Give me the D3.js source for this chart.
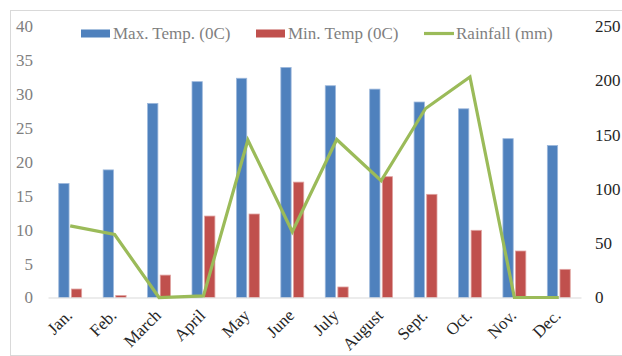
<!DOCTYPE html>
<html>
<head>
<meta charset="utf-8">
<script src="https://cdn.jsdelivr.net/npm/d3@7"></script>
<style>
  html, body { margin: 0; padding: 0; background: #fff; }
  svg { display: block; }
  text { font-family: "Liberation Serif", "Times New Roman", serif; }
</style>
</head>
<body>
<svg id="chart" width="622" height="356"></svg>
<script>
// Monthly climate data
const months = ["Jan.", "Feb.", "March", "April", "May", "June", "July", "August", "Sept.", "Oct.", "Nov.", "Dec."];
const maxTemp = [16.8, 18.8, 28.6, 31.8, 32.3, 33.9, 31.2, 30.7, 28.8, 27.8, 23.4, 22.4];
const minTemp = [1.25, 0.3, 3.3, 12.0, 12.3, 17.0, 1.55, 17.8, 15.2, 9.9, 6.85, 4.15];
const rainfall = [66, 58, 0, 1.5, 145, 60.5, 145.5, 107.5, 174, 203, 0, 0];
const leftTicks = [0, 5, 10, 15, 20, 25, 30, 35, 40];
const rightTicks = [0, 50, 100, 150, 200, 250];
const seriesNames = ["Max. Temp. (0C)", "Min. Temp (0C)", "Rainfall (mm)"];

const colors = { max: "#4F81BD", min: "#C0504D", rain: "#9BBB59" };

const svg = d3.select("#chart");
const W = 622, H = 356;
const plot = { left: 48, right: 581, top: 26, bottom: 297.5 };

// Chart frame
svg.append("rect")
  .attr("x", 10.5).attr("y", 10.5)
  .attr("width", W + 20).attr("height", H - 11)
  .attr("fill", "none").attr("stroke", "#d9d9d9").attr("stroke-width", 1);

const x = d3.scaleBand().domain(months).range([plot.left, plot.right]);
const yL = d3.scaleLinear().domain([0, 40]).range([plot.bottom, plot.top]);
const yR = d3.scaleLinear().domain([0, 250]).range([plot.bottom, plot.top]);

const barW = 10.3, gap = 2.3;

// Left axis
const leftAxis = svg.append("g")
  .attr("transform", `translate(${plot.left},0)`)
  .call(d3.axisLeft(yL).tickValues(leftTicks).tickSize(0).tickPadding(15));
leftAxis.select(".domain").remove();
leftAxis.selectAll("text")
  .attr("font-size", 17).attr("fill", "#7f7f7f");

// Right axis
const rightAxis = svg.append("g")
  .attr("transform", `translate(${plot.right},0)`)
  .call(d3.axisRight(yR).tickValues(rightTicks).tickSize(0).tickPadding(14));
rightAxis.select(".domain").remove();
rightAxis.selectAll("text")
  .attr("font-size", 17).attr("fill", "#262626");

// Max temperature bars
svg.append("g").selectAll("rect")
  .data(months)
  .join("rect")
  .attr("x", (d) => x(d) + x.bandwidth() / 2 - gap / 2 - barW)
  .attr("y", (d, i) => yL(maxTemp[i]))
  .attr("width", barW)
  .attr("height", (d, i) => yL(0) - yL(maxTemp[i]))
  .attr("fill", colors.max)
  .attr("stroke", "#9db8dc").attr("stroke-width", 0.8);

// Min temperature bars
svg.append("g").selectAll("rect")
  .data(months)
  .join("rect")
  .attr("x", (d) => x(d) + x.bandwidth() / 2 + gap / 2)
  .attr("y", (d, i) => yL(minTemp[i]))
  .attr("width", barW)
  .attr("height", (d, i) => yL(0) - yL(minTemp[i]))
  .attr("fill", colors.min)
  .attr("stroke", "#e0a3a1").attr("stroke-width", 0.8);

// Category axis baseline
const bottomAxis = svg.append("g")
  .attr("transform", `translate(0,${plot.bottom})`)
  .call(d3.axisBottom(x).tickSize(0).tickPadding(0));
bottomAxis.select(".domain")
  .attr("stroke", "#d9d9d9").attr("stroke-width", 1.2);
bottomAxis.selectAll("text")
  .attr("font-size", 17).attr("fill", "#262626")
  .attr("text-anchor", "end")
  .attr("dy", 0)
  .attr("transform", "translate(3,19) rotate(-45)");

// Rainfall line
const line = d3.line()
  .x((d, i) => x(months[i]) + x.bandwidth() / 2)
  .y((d) => yR(d));
svg.append("path")
  .datum(rainfall)
  .attr("d", line)
  .attr("fill", "none")
  .attr("stroke", colors.rain)
  .attr("stroke-width", 3.2)
  .attr("stroke-linejoin", "miter");

// Legend
const legend = svg.append("g").attr("font-size", 17).attr("fill", "#7f7f7f");
const legendItems = [
  { name: seriesNames[0], x: 81, type: "rect", color: colors.max },
  { name: seriesNames[1], x: 256, type: "rect", color: colors.min },
  { name: seriesNames[2], x: 424, type: "line", color: colors.rain }
];
legendItems.forEach((it) => {
  if (it.type === "rect") {
    legend.append("rect")
      .attr("x", it.x).attr("y", 29.5).attr("width", 29).attr("height", 8)
      .attr("fill", it.color);
  } else {
    legend.append("line")
      .attr("x1", it.x).attr("x2", it.x + 30).attr("y1", 33.5).attr("y2", 33.5)
      .attr("stroke", it.color).attr("stroke-width", 3.2);
  }
  legend.append("text")
    .attr("x", it.x + 32).attr("y", 39)
    .attr("fill", "#7f7f7f")
    .text(it.name);
});
</script>
</body>
</html>
